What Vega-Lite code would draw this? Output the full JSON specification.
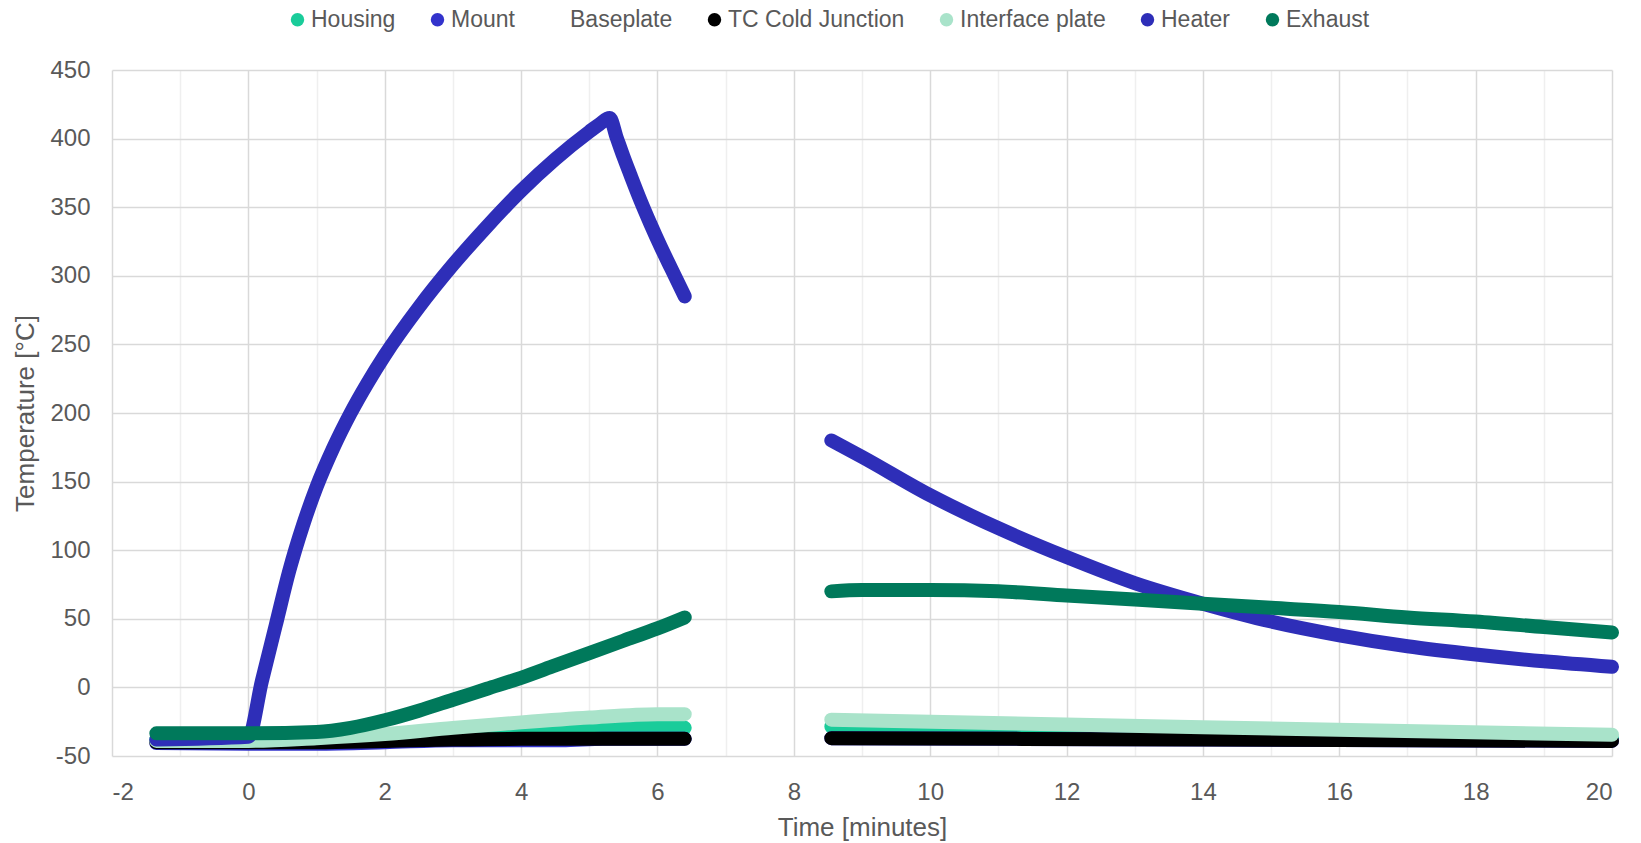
{
  "$schema": "https://vega.github.io/schema/vega-lite/v6.json",
  "width": 1500,
  "height": 686,
  "autosize": {"type": "none"},
  "padding": {"left": 112, "top": 70, "right": 29, "bottom": 87},
  "background": "white",
  "config": {
    "view": {"stroke": null},
    "font": "Liberation Sans",
    "axis": {"labelFont": "Liberation Sans", "titleFont": "Liberation Sans", "labelColor": "#595959", "titleColor": "#595959", "labelFontSize": 24, "titleFontSize": 26, "titleFontWeight": "normal", "domain": false, "ticks": false}
  },
  "data": {
    "values": [
      {"s": "Housing", "g": 1, "t": -1.35, "v": -38}, {"s": "Housing", "g": 1, "t": 0, "v": -38}, {"s": "Housing", "g": 1, "t": 2, "v": -35}, {"s": "Housing", "g": 1, "t": 4, "v": -31}, {"s": "Housing", "g": 1, "t": 6, "v": -29.5}, {"s": "Housing", "g": 1, "t": 6.4, "v": -29.5},
      {"s": "Housing", "g": 2, "t": 8.55, "v": -28.5}, {"s": "Housing", "g": 2, "t": 14, "v": -32.5}, {"s": "Housing", "g": 2, "t": 20, "v": -37},
      {"s": "Mount", "g": 1, "t": -1.35, "v": -40.5}, {"s": "Mount", "g": 1, "t": 0, "v": -41}, {"s": "Mount", "g": 1, "t": 1, "v": -41}, {"s": "Mount", "g": 1, "t": 2, "v": -40}, {"s": "Mount", "g": 1, "t": 3, "v": -38.5}, {"s": "Mount", "g": 1, "t": 4, "v": -38.5}, {"s": "Mount", "g": 1, "t": 4.6, "v": -38.5}, {"s": "Mount", "g": 1, "t": 5.2, "v": -37.5}, {"s": "Mount", "g": 1, "t": 6.4, "v": -37.5},
      {"s": "Mount", "g": 2, "t": 8.55, "v": -37}, {"s": "Mount", "g": 2, "t": 14, "v": -38}, {"s": "Mount", "g": 2, "t": 20, "v": -39},
      {"s": "TC Cold Junction", "g": 1, "t": -1.35, "v": -40}, {"s": "TC Cold Junction", "g": 1, "t": 0, "v": -40}, {"s": "TC Cold Junction", "g": 1, "t": 1, "v": -40}, {"s": "TC Cold Junction", "g": 1, "t": 2, "v": -39}, {"s": "TC Cold Junction", "g": 1, "t": 3, "v": -38}, {"s": "TC Cold Junction", "g": 1, "t": 4, "v": -37.5}, {"s": "TC Cold Junction", "g": 1, "t": 6.4, "v": -37.5},
      {"s": "TC Cold Junction", "g": 2, "t": 8.55, "v": -37}, {"s": "TC Cold Junction", "g": 2, "t": 14, "v": -38}, {"s": "TC Cold Junction", "g": 2, "t": 20, "v": -39},
      {"s": "Interface plate", "g": 1, "t": -1.35, "v": -39}, {"s": "Interface plate", "g": 1, "t": 0, "v": -39}, {"s": "Interface plate", "g": 1, "t": 1, "v": -37}, {"s": "Interface plate", "g": 1, "t": 2, "v": -34}, {"s": "Interface plate", "g": 1, "t": 3, "v": -29.5}, {"s": "Interface plate", "g": 1, "t": 4, "v": -25.5}, {"s": "Interface plate", "g": 1, "t": 5, "v": -22}, {"s": "Interface plate", "g": 1, "t": 6, "v": -19.5}, {"s": "Interface plate", "g": 1, "t": 6.4, "v": -19.5},
      {"s": "Interface plate", "g": 2, "t": 8.55, "v": -23.5}, {"s": "Interface plate", "g": 2, "t": 14, "v": -29}, {"s": "Interface plate", "g": 2, "t": 20, "v": -34.5},
      {"s": "Heater", "g": 1, "t": -1.35, "v": -38}, {"s": "Heater", "g": 1, "t": 0, "v": -36}, {"s": "Heater", "g": 1, "t": 0.2, "v": 5}, {"s": "Heater", "g": 1, "t": 0.4, "v": 45}, {"s": "Heater", "g": 1, "t": 0.6, "v": 85}, {"s": "Heater", "g": 1, "t": 0.8, "v": 118}, {"s": "Heater", "g": 1, "t": 1, "v": 146}, {"s": "Heater", "g": 1, "t": 1.25, "v": 175}, {"s": "Heater", "g": 1, "t": 1.5, "v": 200}, {"s": "Heater", "g": 1, "t": 1.75, "v": 222}, {"s": "Heater", "g": 1, "t": 2, "v": 242}, {"s": "Heater", "g": 1, "t": 2.5, "v": 277}, {"s": "Heater", "g": 1, "t": 3, "v": 308}, {"s": "Heater", "g": 1, "t": 3.5, "v": 336}, {"s": "Heater", "g": 1, "t": 4, "v": 362}, {"s": "Heater", "g": 1, "t": 4.5, "v": 385}, {"s": "Heater", "g": 1, "t": 5, "v": 405}, {"s": "Heater", "g": 1, "t": 5.15, "v": 410.5}, {"s": "Heater", "g": 1, "t": 5.3, "v": 415}, {"s": "Heater", "g": 1, "t": 5.4, "v": 401}, {"s": "Heater", "g": 1, "t": 5.5, "v": 387}, {"s": "Heater", "g": 1, "t": 5.6, "v": 374}, {"s": "Heater", "g": 1, "t": 5.75, "v": 355}, {"s": "Heater", "g": 1, "t": 5.9, "v": 337.5}, {"s": "Heater", "g": 1, "t": 6.05, "v": 321}, {"s": "Heater", "g": 1, "t": 6.2, "v": 305.5}, {"s": "Heater", "g": 1, "t": 6.4, "v": 285},
      {"s": "Heater", "g": 2, "t": 8.55, "v": 180}, {"s": "Heater", "g": 2, "t": 9, "v": 168}, {"s": "Heater", "g": 2, "t": 10, "v": 140}, {"s": "Heater", "g": 2, "t": 11, "v": 116}, {"s": "Heater", "g": 2, "t": 12, "v": 95}, {"s": "Heater", "g": 2, "t": 13, "v": 76}, {"s": "Heater", "g": 2, "t": 14, "v": 61}, {"s": "Heater", "g": 2, "t": 15, "v": 48}, {"s": "Heater", "g": 2, "t": 16, "v": 38}, {"s": "Heater", "g": 2, "t": 17, "v": 30}, {"s": "Heater", "g": 2, "t": 18, "v": 24}, {"s": "Heater", "g": 2, "t": 19, "v": 19}, {"s": "Heater", "g": 2, "t": 20, "v": 15},
      {"s": "Exhaust", "g": 1, "t": -1.35, "v": -33.5}, {"s": "Exhaust", "g": 1, "t": 0, "v": -33.5}, {"s": "Exhaust", "g": 1, "t": 1, "v": -32.5}, {"s": "Exhaust", "g": 1, "t": 1.5, "v": -29.5}, {"s": "Exhaust", "g": 1, "t": 2, "v": -24}, {"s": "Exhaust", "g": 1, "t": 2.5, "v": -17}, {"s": "Exhaust", "g": 1, "t": 3, "v": -9}, {"s": "Exhaust", "g": 1, "t": 3.5, "v": -1}, {"s": "Exhaust", "g": 1, "t": 4, "v": 7}, {"s": "Exhaust", "g": 1, "t": 4.5, "v": 16}, {"s": "Exhaust", "g": 1, "t": 5, "v": 25}, {"s": "Exhaust", "g": 1, "t": 5.5, "v": 34}, {"s": "Exhaust", "g": 1, "t": 6, "v": 43}, {"s": "Exhaust", "g": 1, "t": 6.4, "v": 51},
      {"s": "Exhaust", "g": 2, "t": 8.55, "v": 70}, {"s": "Exhaust", "g": 2, "t": 9, "v": 71}, {"s": "Exhaust", "g": 2, "t": 10, "v": 71}, {"s": "Exhaust", "g": 2, "t": 11, "v": 70}, {"s": "Exhaust", "g": 2, "t": 12, "v": 67}, {"s": "Exhaust", "g": 2, "t": 13, "v": 64}, {"s": "Exhaust", "g": 2, "t": 14, "v": 61}, {"s": "Exhaust", "g": 2, "t": 15, "v": 58}, {"s": "Exhaust", "g": 2, "t": 16, "v": 55}, {"s": "Exhaust", "g": 2, "t": 17, "v": 51}, {"s": "Exhaust", "g": 2, "t": 18, "v": 48}, {"s": "Exhaust", "g": 2, "t": 19, "v": 44}, {"s": "Exhaust", "g": 2, "t": 20, "v": 40}
    ]
  },
  "mark": {"type": "line", "strokeWidth": 14, "strokeCap": "round", "strokeJoin": "round", "interpolate": "monotone", "clip": false},
  "encoding": {
    "x": {"field": "t", "type": "quantitative", "title": "Time [minutes]",
      "scale": {"domain": [-2, 20], "nice": false, "zero": false},
      "axis": {"values": [-2,-1,0,1,2,3,4,5,6,7,8,9,10,11,12,13,14,15,16,17,18,19,20], "labelExpr": "datum.value % 2 === 0 ? '' + datum.value : ''", "labelPadding": 24, "titlePadding": 10, "grid": true, "gridColor": {"condition": {"test": "datum.value % 2 === 0", "value": "#D9D9D9"}, "value": "#EFEFEF"}, "gridWidth": 1.5}},
    "y": {"field": "v", "type": "quantitative", "title": "Temperature [°C]",
      "scale": {"domain": [-50, 450], "nice": false, "zero": false},
      "axis": {"values": [-50,0,50,100,150,200,250,300,350,400,450], "labelExpr": "'' + datum.value", "labelPadding": 22, "titlePadding": 11, "grid": true, "gridColor": "#D9D9D9", "gridWidth": 1.5}},
    "detail": {"field": "g", "type": "nominal"},
    "color": {"field": "s", "type": "nominal",
      "scale": {"domain": ["Housing", "Mount", "Baseplate", "TC Cold Junction", "Interface plate", "Heater", "Exhaust"], "range": ["#1ACC9A", "#3333CC", "#FFFFFF", "#000000", "#A9E3CA", "#2E2EB8", "#00795B"]},
      "legend": {"title": null, "orient": "none", "direction": "horizontal", "legendX": 174, "legendY": -62, "symbolType": "circle", "symbolSize": 180, "labelFontSize": 23, "labelLimit": 0, "labelColor": "#595959", "labelFont": "Liberation Sans", "labelOffset": 2, "columnPadding": 30,
        "encode": {"symbols": {"update": {"fill": {"scale": "color", "field": "value"}, "strokeWidth": {"value": 0}, "opacity": {"value": 1}}}}}}
  }
}
